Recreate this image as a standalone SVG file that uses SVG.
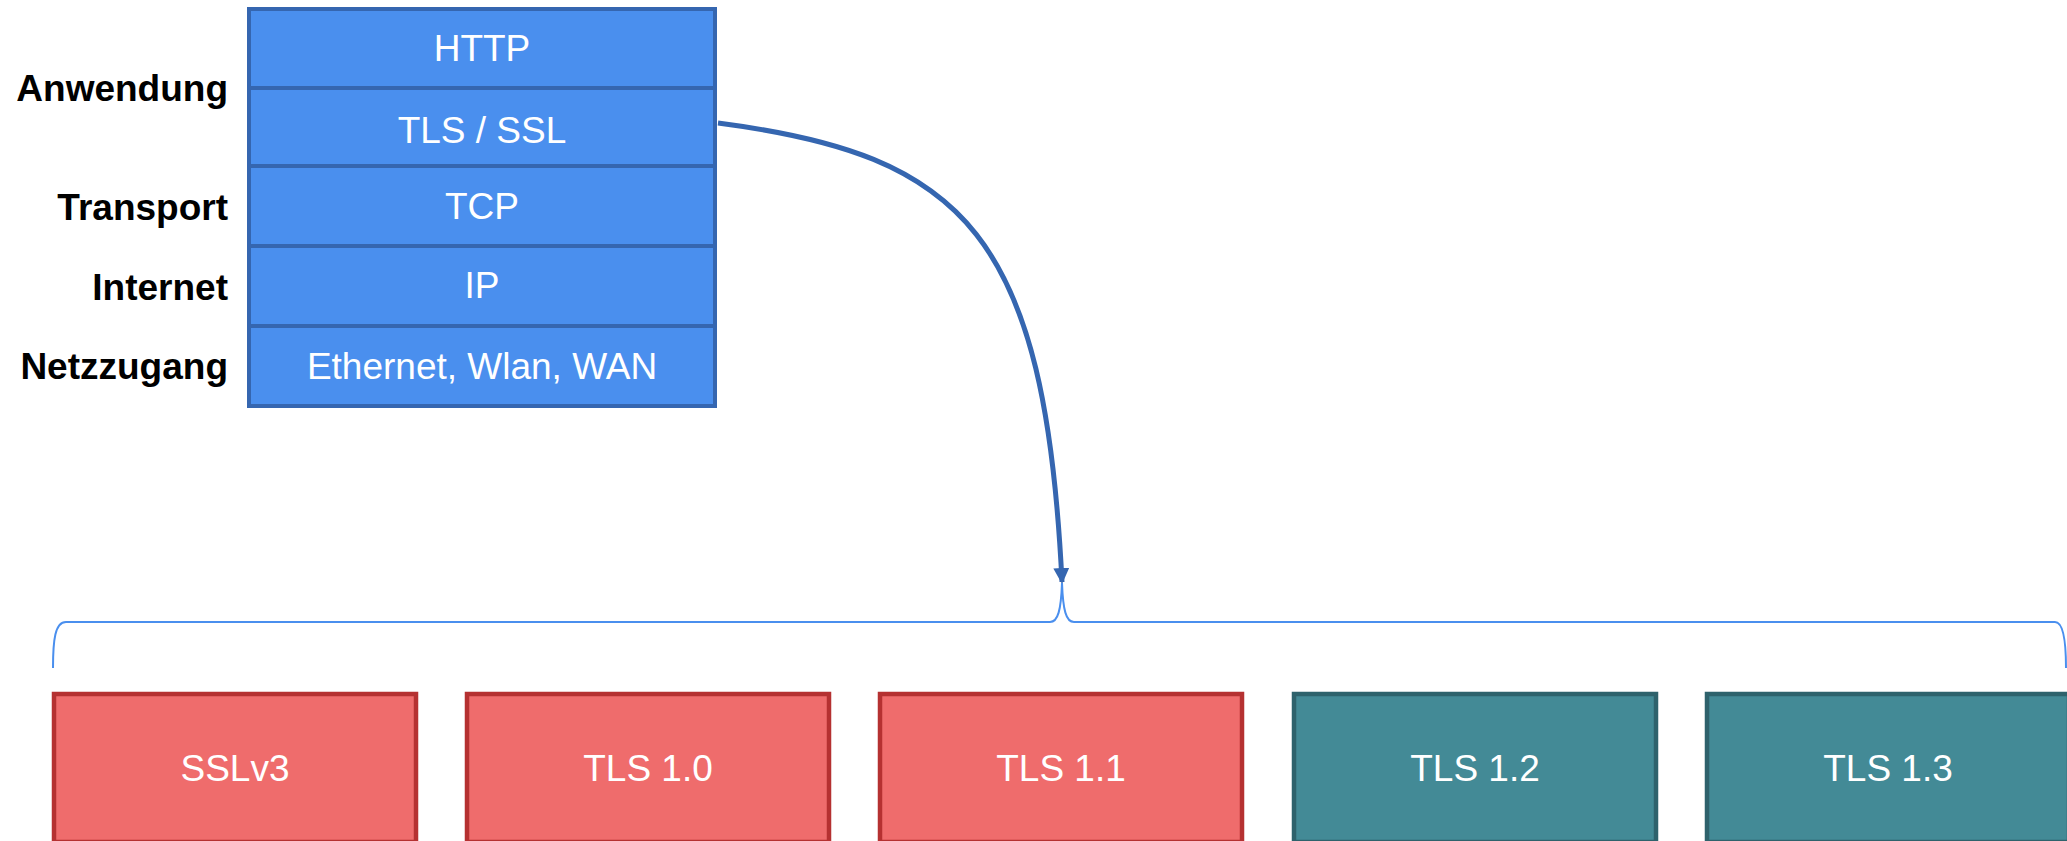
<svg xmlns="http://www.w3.org/2000/svg" width="2067" height="841" viewBox="0 0 2067 841">
  <style>
    .layer { fill: #4a8fee; stroke: #3566b0; stroke-width: 4; }
    .ltext { font-family: "Liberation Sans", Arial, sans-serif; font-size: 37px; fill: #ffffff; text-anchor: middle; }
    .lbl { font-family: "Liberation Sans", Arial, sans-serif; font-size: 37px; font-weight: bold; fill: #000000; text-anchor: end; }
    .old { fill: #ef6c6c; stroke: #b53131; stroke-width: 4.5; }
    .cur { fill: #438a96; stroke: #2e626c; stroke-width: 4.5; }
    .vtext { font-family: "Liberation Sans", Arial, sans-serif; font-size: 37px; fill: #ffffff; text-anchor: middle; }
    .conn { fill: none; stroke: #3566b0; stroke-width: 5; }
    .brace { fill: none; stroke: #4a8fee; stroke-width: 2; }
  </style>
  <defs>
    <marker id="arrow" markerUnits="userSpaceOnUse" markerWidth="20" markerHeight="20" refX="14" refY="8" orient="auto">
      <path d="M0,0 L16,8 L0,16 Z" fill="#3566b0"/>
    </marker>
  </defs>

  <!-- layer labels -->
  <g id="labels">
    <text class="lbl" x="228" y="101">Anwendung</text>
    <text class="lbl" x="228" y="220">Transport</text>
    <text class="lbl" x="228" y="300">Internet</text>
    <text class="lbl" x="228" y="379">Netzzugang</text>
  </g>

  <!-- protocol stack -->
  <g id="http">
    <rect class="layer" x="249" y="9" width="466" height="79"/>
    <text class="ltext" x="482" y="61">HTTP</text>
  </g>
  <g id="tls-ssl">
    <rect class="layer" x="249" y="88" width="466" height="78"/>
    <text class="ltext" x="482" y="143">TLS / SSL</text>
  </g>
  <g id="tcp">
    <rect class="layer" x="249" y="166" width="466" height="80"/>
    <text class="ltext" x="482" y="219">TCP</text>
  </g>
  <g id="ip">
    <rect class="layer" x="249" y="246" width="466" height="80"/>
    <text class="ltext" x="482" y="298">IP</text>
  </g>
  <g id="link">
    <rect class="layer" x="249" y="326" width="466" height="80"/>
    <text class="ltext" x="482" y="379">Ethernet, Wlan, WAN</text>
  </g>

  <!-- connectors -->
  <g id="connectors">
    <path class="conn" d="M718,123 C965,155 1045,235 1062,582" marker-end="url(#arrow)"/>
    <path class="brace" d="M53,668 C53,640 55,622 66,622 L1050,622 C1058,622 1061,610 1062,583 C1063,610 1066,622 1074,622 L2055,622 C2063,622 2066,640 2066,668"/>
  </g>

  <!-- TLS / SSL versions -->
  <g id="sslv3">
    <rect class="old" x="54" y="694" width="362" height="148"/>
    <text class="vtext" x="235" y="781">SSLv3</text>
  </g>
  <g id="tls10">
    <rect class="old" x="467" y="694" width="362" height="148"/>
    <text class="vtext" x="648" y="781">TLS 1.0</text>
  </g>
  <g id="tls11">
    <rect class="old" x="880" y="694" width="362" height="148"/>
    <text class="vtext" x="1061" y="781">TLS 1.1</text>
  </g>
  <g id="tls12">
    <rect class="cur" x="1294" y="694" width="362" height="148"/>
    <text class="vtext" x="1475" y="781">TLS 1.2</text>
  </g>
  <g id="tls13">
    <rect class="cur" x="1707" y="694" width="362" height="148"/>
    <text class="vtext" x="1888" y="781">TLS 1.3</text>
  </g>
</svg>
